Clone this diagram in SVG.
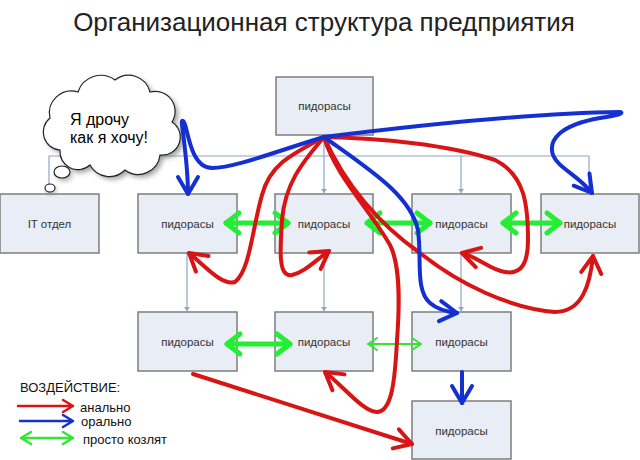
<svg xmlns="http://www.w3.org/2000/svg" width="640" height="460" viewBox="0 0 640 460">
<style>
.node rect{fill:#e9edf5;stroke:#7d7d7d;stroke-width:1.5}
.node text{font-family:"Liberation Sans",Arial,sans-serif;font-size:11.5px;fill:#333;text-anchor:middle}
.tree{fill:none;stroke:#8ea6c8;stroke-width:1.2}
.red{fill:none;stroke:#d91414;stroke-width:4;stroke-linecap:round;stroke-linejoin:round}
.blue{fill:none;stroke:#1430d2;stroke-width:4;stroke-linecap:round;stroke-linejoin:round}
.green{fill:none;stroke:#22ee33;stroke-width:5;stroke-linecap:round}
.greenthin{fill:none;stroke:#33e633;stroke-width:2;stroke-linecap:round}
.lg{font-family:"Liberation Sans",Arial,sans-serif;font-size:13px;fill:#111}
</style>
<defs>
<marker id="mt" markerUnits="userSpaceOnUse" viewBox="-5 -4 6 8" refX="0" refY="0" markerWidth="6" markerHeight="8" orient="auto"><path d="M-4,-3 L0,0 L-4,3 Z" fill="#8ea6c8"/></marker>
<marker id="mr" markerUnits="userSpaceOnUse" viewBox="-22 -14 26 28" refX="0" refY="0" markerWidth="26" markerHeight="28" orient="auto"><path d="M-17,-10 L0,0 L-17,10" fill="none" stroke="#d91414" stroke-width="4" stroke-linecap="round" stroke-linejoin="round"/></marker>
<marker id="mb" markerUnits="userSpaceOnUse" viewBox="-22 -14 26 28" refX="0" refY="0" markerWidth="26" markerHeight="28" orient="auto"><path d="M-17,-10 L0,0 L-17,10" fill="none" stroke="#1430d2" stroke-width="4" stroke-linecap="round" stroke-linejoin="round"/></marker>
<marker id="mg" markerUnits="userSpaceOnUse" viewBox="-20 -14 24 28" refX="0" refY="0" markerWidth="24" markerHeight="28" orient="auto-start-reverse"><path d="M-13,-10 L0,0 L-13,10" fill="none" stroke="#22ee33" stroke-width="5" stroke-linecap="round" stroke-linejoin="round"/></marker>
<marker id="mgt" markerUnits="userSpaceOnUse" viewBox="-14 -9 16 18" refX="0" refY="0" markerWidth="16" markerHeight="18" orient="auto-start-reverse"><path d="M-9,-6 L0,0 L-9,6" fill="none" stroke="#33e633" stroke-width="2" stroke-linecap="round" stroke-linejoin="round"/></marker>
<filter id="sh" x="-20%" y="-20%" width="150%" height="150%"><feGaussianBlur stdDeviation="2.5"/></filter>
</defs>

<rect width="640" height="460" fill="#fff"/>

<text x="324" y="31" font-family="'Liberation Sans',Arial,sans-serif" font-size="26" fill="#222" text-anchor="middle">Организационная структура предприятия</text>

<g id="tree-connectors">
<path class="tree" d="M324,135 V156 M49,156 H589"/>
<path class="tree" d="M49,156 V193"/>
<path class="tree" d="M187,156 V193" marker-end="url(#mt)"/>
<path class="tree" d="M324,156 V193" marker-end="url(#mt)"/>
<path class="tree" d="M461,156 V193" marker-end="url(#mt)"/>
<path class="tree" d="M589,156 V193" marker-end="url(#mt)"/>
<path class="tree" d="M187,253 V311" marker-end="url(#mt)"/>
<path class="tree" d="M324,253 V311" marker-end="url(#mt)"/>
<path class="tree" d="M461,253 V311" marker-end="url(#mt)"/>
</g>

<g id="node-top" class="node"><rect x="276" y="77" width="97" height="58"/><text x="324.5" y="110">пидорасы</text></g>
<g id="node-it" class="node"><rect x="0" y="194" width="99" height="59"/><text x="49.5" y="228">IT отдел</text></g>
<g id="node-r2a" class="node"><rect x="138" y="194" width="99" height="59"/><text x="187.5" y="228">пидорасы</text></g>
<g id="node-r2b" class="node"><rect x="275" y="194" width="98" height="59"/><text x="324" y="228">пидорасы</text></g>
<g id="node-r2c" class="node"><rect x="412" y="194" width="99" height="59"/><text x="461.5" y="228">пидорасы</text></g>
<g id="node-r2d" class="node"><rect x="541" y="194" width="98" height="59"/><text x="590" y="228">пидорасы</text></g>
<g id="node-r3a" class="node"><rect x="138" y="312" width="99" height="59"/><text x="187.5" y="346">пидорасы</text></g>
<g id="node-r3b" class="node"><rect x="275" y="312" width="98" height="59"/><text x="324" y="346">пидорасы</text></g>
<g id="node-r3c" class="node"><rect x="412" y="312" width="99" height="59"/><text x="461.5" y="346">пидорасы</text></g>
<g id="node-r4" class="node"><rect x="412" y="401" width="99" height="58"/><text x="461.5" y="435">пидорасы</text></g>

<g id="thought-cloud">
<path d="M60,150 A18,18 0 0 1 50,118 A22,22 0 0 1 78,92 A24,24 0 0 1 115,80 A22,22 0 0 1 150,92 A20,20 0 0 1 172,122 A18,18 0 0 1 160,155 A22,22 0 0 1 125,170 A22,22 0 0 1 90,165 A18,18 0 0 1 60,150 Z" transform="translate(3,3)" fill="#777" filter="url(#sh)" opacity="0.7"/>
<path d="M60,150 A18,18 0 0 1 50,118 A22,22 0 0 1 78,92 A24,24 0 0 1 115,80 A22,22 0 0 1 150,92 A20,20 0 0 1 172,122 A18,18 0 0 1 160,155 A22,22 0 0 1 125,170 A22,22 0 0 1 90,165 A18,18 0 0 1 60,150 Z" fill="#fff" stroke="#222" stroke-width="1.2"/>
<ellipse cx="64" cy="175" rx="8" ry="6" fill="#777" filter="url(#sh)" opacity="0.6"/>
<ellipse cx="62" cy="172" rx="8" ry="6" fill="#fff" stroke="#222" stroke-width="1.2"/>
<ellipse cx="51" cy="190" rx="5" ry="4" fill="#777" filter="url(#sh)" opacity="0.6"/>
<ellipse cx="50" cy="188" rx="5" ry="4" fill="#fff" stroke="#222" stroke-width="1.2"/>
<text font-family="'Liberation Sans',Arial,sans-serif" font-size="16" fill="#000"><tspan x="70" y="125">Я дрочу</tspan><tspan x="70" y="143">как я хочу!</tspan></text>
</g>

<g id="drawn-arrows">
<path class="green" d="M226,223 H288" marker-start="url(#mg)" marker-end="url(#mg)"/>
<path class="green" d="M367,223 H430" marker-start="url(#mg)" marker-end="url(#mg)"/>
<path class="green" d="M503,223 H560" marker-start="url(#mg)" marker-end="url(#mg)"/>
<path class="green" d="M227,344 H290" marker-start="url(#mg)" marker-end="url(#mg)"/>
<path class="greenthin" d="M368,344 H421" marker-start="url(#mgt)" marker-end="url(#mgt)"/>

<path class="red" d="M324,137 C290,155 270,165 262,195 C252,230 250,270 235,282 C222,286 205,266 189,253" marker-end="url(#mr)"/>
<path class="red" d="M324,137 C300,165 285,185 282,220 C280,250 278,278 292,275 C305,272 316,260 329,251" marker-end="url(#mr)"/>
<path class="red" d="M324,137 C335,175 370,210 390,245 C400,265 400,300 397,340 C395,380 392,410 378,412 C365,414 342,385 325,372" marker-end="url(#mr)"/>
<path class="red" d="M324,137 C345,185 380,225 420,253 C460,285 510,308 555,312 C582,312 590,285 593,256" marker-end="url(#mr)"/>
<path class="red" d="M324,137 C380,138 450,145 495,160 C525,175 528,205 528,240 C528,262 522,275 505,272 C490,270 480,258 462,253" marker-end="url(#mr)"/>
<path class="red" d="M193,374 L412,444" marker-end="url(#mr)"/>

<path class="blue" d="M324,137 C280,150 235,168 212,168 C195,168 190,145 186,128 C184,120 181,118 182,125 C184,140 188,170 188,194" marker-end="url(#mb)"/>
<path class="blue" d="M324,137 C420,125 540,113 620,112 C624,113 620,115 600,118 C560,125 548,140 553,155 C558,168 578,175 592,193" marker-end="url(#mb)"/>
<path class="blue" d="M324,137 C370,170 410,195 418,230 C422,260 415,290 430,303 C438,310 448,312 457,313" marker-end="url(#mb)"/>
<path class="blue" d="M462,372 L462,403" marker-end="url(#mb)"/>
</g>

<g id="legend">
<text class="lg" x="20" y="392">ВОЗДЕЙСТВИЕ:</text>
<path d="M18,406 H73 M63,400 L73,406 L63,412" fill="none" stroke="#d91414" stroke-width="2.5" stroke-linecap="round" stroke-linejoin="round"/>
<path d="M20,421 H73 M63,415 L73,421 L63,427" fill="none" stroke="#1430d2" stroke-width="2.5" stroke-linecap="round" stroke-linejoin="round"/>
<path d="M21,438 H73 M63,432 L73,438 L63,444 M31,432 L21,438 L31,444" fill="none" stroke="#33e633" stroke-width="2.5" stroke-linecap="round" stroke-linejoin="round"/>
<text class="lg" x="80" y="412">анально</text>
<text class="lg" x="81" y="426">орально</text>
<text class="lg" x="83" y="444">просто козлят</text>
</g>
</svg>
